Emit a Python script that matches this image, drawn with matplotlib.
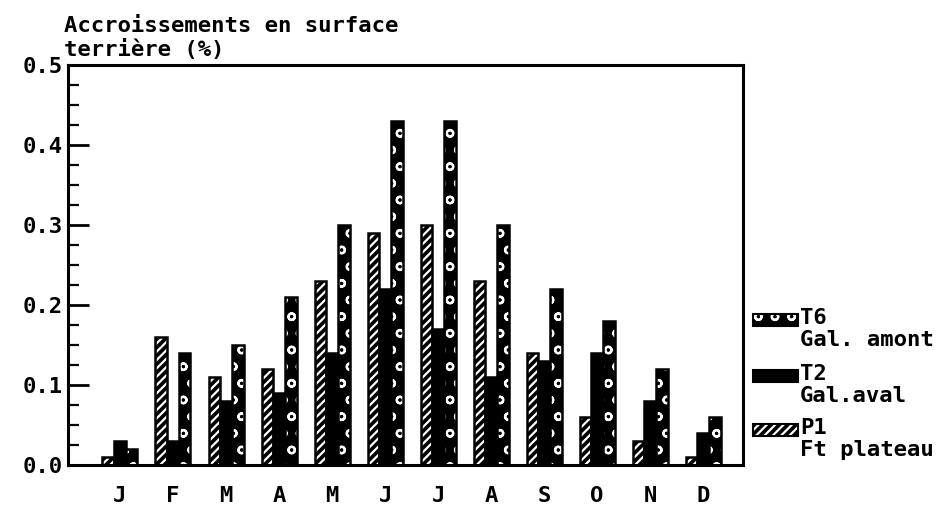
import matplotlib
matplotlib.use("Agg")
import matplotlib.pyplot as plt
import numpy as np
from matplotlib.patches import Rectangle

months = ["J", "F", "M", "A", "M", "J", "J", "A", "S", "O", "N", "D"]
p1 = [0.01, 0.16, 0.11, 0.12, 0.23, 0.29, 0.30, 0.23, 0.14, 0.06, 0.03, 0.01]
t2 = [0.03, 0.03, 0.08, 0.09, 0.14, 0.22, 0.17, 0.11, 0.13, 0.14, 0.08, 0.04]
t6 = [0.02, 0.14, 0.15, 0.21, 0.30, 0.43, 0.43, 0.30, 0.22, 0.18, 0.12, 0.06]
yticks = [0.0, 0.1, 0.2, 0.3, 0.4, 0.5]
ytick_labels = ["0.0", "0.1", "0.2", "0.3", "0.4", "0.5"]

FONT = "DejaVu Sans Mono"
plt.rcParams["font.family"] = FONT
plt.rcParams["font.weight"] = "bold"
plt.rcParams["hatch.linewidth"] = 1.6

W, H = 943, 508
fig = plt.figure(figsize=(W / 100, H / 100), dpi=100)
ax = fig.add_axes([68 / W, 1 - 465 / H, (743 - 68) / W, (465 - 65) / H])

x = np.arange(len(months))
bw = 0.22

def draw(xpos, vals, kind):
    if kind == "p1":
        ax.bar(xpos, vals, bw, color="black", edgecolor="white", hatch="////", linewidth=0)
    elif kind == "t2":
        ax.bar(xpos, vals, bw, color="black", linewidth=0)
    else:
        ax.bar(xpos, vals, bw, color="black", edgecolor="white", hatch="o", linewidth=0)
    ax.bar(xpos, vals, bw, fill=False, edgecolor="black", linewidth=1.8)

draw(x - bw, p1, "p1")
draw(x, t2, "t2")
draw(x + bw, t6, "t6")

ax.set_xlim(-0.98, 11.75)
ax.set_ylim(0, 0.5)
ax.set_yticks(yticks)
ax.set_yticklabels(ytick_labels)
ax.set_yticks(np.arange(0, 0.5, 0.025), minor=True)
ax.tick_params(axis="y", which="major", direction="in", length=15, width=2, labelsize=16, pad=4)
ax.tick_params(axis="y", which="minor", direction="in", length=8, width=1.6)
ax.set_xticks(x)
ax.set_xticklabels(months)
ax.tick_params(axis="x", length=0, labelsize=16, pad=15)
for s in ax.spines.values():
    s.set_linewidth(2.2)

fig.text(64 / W, 1 - 38 / H, "Accroissements en surface\nterrière (%)", fontsize=16,
         va="center", ha="left", linespacing=1.15)

# legend (manual)
entries = [("T6", "Gal. amont", "t6", 320),
           ("T2", "Gal.aval", "t2", 376),
           ("P1", "Ft plateau", "p1", 430)]
for name, desc, kind, yc in entries:
    kw = dict(transform=fig.transFigure, figure=fig)
    rx, ry, rw, rh = 753 / W, 1 - (yc + 6) / H, 45 / W, 12 / H
    if kind == "p1":
        r = Rectangle((rx, ry), rw, rh, facecolor="black", edgecolor="white", hatch="////", linewidth=0, **kw)
    elif kind == "t6":
        r = Rectangle((rx, ry), rw, rh, facecolor="black", edgecolor="white", hatch="o", linewidth=0, **kw)
    else:
        r = Rectangle((rx, ry), rw, rh, facecolor="black", linewidth=0, **kw)
    fig.patches.append(r)
    fig.patches.append(Rectangle((rx, ry), rw, rh, fill=False, edgecolor="black", linewidth=1.5, **kw))
    fig.text(800 / W, 1 - (yc + 9) / H, name + "\n" + desc, fontsize=16, va="center", ha="left",
             linespacing=1.1)

fig.savefig("out.png", dpi=100)
